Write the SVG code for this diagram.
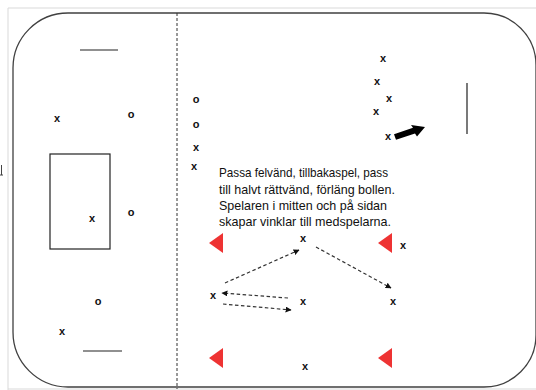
<svg xmlns="http://www.w3.org/2000/svg" width="536" height="390" viewBox="0 0 536 390">
<defs>
<style>
.frame{fill:none;stroke:#d9d9d9;stroke-width:1}
.rink{fill:none;stroke:#404040;stroke-width:1.3}
.line{fill:none;stroke:#222;stroke-width:1.2}
.mid{fill:none;stroke:#333;stroke-width:1;stroke-dasharray:3 2}
.pass{fill:none;stroke:#333;stroke-width:1.2;stroke-dasharray:3.5 2.5}
.cone{fill:#ee3333}
.pl{font-family:"Liberation Sans",Arial,sans-serif;font-weight:bold;font-size:11px;fill:#111;text-anchor:middle}
.txt{font-family:"Liberation Sans",Arial,sans-serif;font-size:13px;fill:#111}
</style>
<marker id="ah" viewBox="0 0 10 10" refX="9" refY="5" markerWidth="6" markerHeight="6" markerUnits="userSpaceOnUse" orient="auto">
<path d="M0,0 L10,5 L0,10 z" fill="#111"/>
</marker>
</defs>
<rect width="536" height="390" fill="#fff"/>
<g id="frame">
<path class="frame" d="M8,8 H536 M8,8 V390 M8,389 H536"/>
<path d="M1.5,165 V175 M0,175 H3" stroke="#444" stroke-width="1" fill="none"/>
</g>
<g id="rink">
<path class="rink" d="M68,13 H484 A52,52 0 0 1 536,65 V335 A52,52 0 0 1 484,387 H68 A55,55 0 0 1 13,332 V68 A55,55 0 0 1 68,13 Z"/>
<path class="mid" d="M177,13 V389"/>
<path class="line" d="M80,50 H118 M83,351 H122 M467,83 V134"/>
<rect x="50" y="154" width="60" height="95" class="line"/>
</g>
<g id="players">
<text class="pl" x="57" y="122">x</text>
<text class="pl" x="131" y="118">o</text>
<text class="pl" x="92" y="222">x</text>
<text class="pl" x="131" y="216">o</text>
<text class="pl" x="98" y="305">o</text>
<text class="pl" x="62" y="335">x</text>
<text class="pl" x="196" y="103">o</text>
<text class="pl" x="196" y="128">o</text>
<text class="pl" x="196" y="151">x</text>
<text class="pl" x="194" y="170">x</text>
<text class="pl" x="383" y="62">x</text>
<text class="pl" x="377" y="85">x</text>
<text class="pl" x="389" y="102">x</text>
<text class="pl" x="376" y="115">x</text>
<text class="pl" x="388" y="140">x</text>
<text class="pl" x="303" y="242">x</text>
<text class="pl" x="403" y="249">x</text>
<text class="pl" x="213" y="299">x</text>
<text class="pl" x="303" y="305">x</text>
<text class="pl" x="393" y="305">x</text>
<text class="pl" x="305" y="370">x</text>
</g>
<g id="cones">
<polygon class="cone" points="209,243 223,233 223,253"/>
<polygon class="cone" points="378,243 392,233 392,253"/>
<polygon class="cone" points="209,358 223,348 223,368"/>
<polygon class="cone" points="378,358 392,348 392,368"/>
</g>
<g id="connectors">
<path class="pass" d="M225,283 L299,250" marker-end="url(#ah)"/>
<path class="pass" d="M316,247 L391,288" marker-end="url(#ah)"/>
<path class="pass" d="M288,298 L222,293" marker-end="url(#ah)"/>
<path class="pass" d="M223,304 L291,310" marker-end="url(#ah)"/>
<polygon points="396,139.8 415,133.5 417,136.6 425,127 411,125 413,127.8 394,134.2" fill="#000"/>
</g>
<g id="note">
<text class="txt" x="219" y="177" textLength="169" lengthAdjust="spacingAndGlyphs">Passa felvänd, tillbakaspel, pass</text>
<text class="txt" x="219" y="194" textLength="176" lengthAdjust="spacingAndGlyphs">till halvt rättvänd, förläng bollen.</text>
<text class="txt" x="219" y="210" textLength="168" lengthAdjust="spacingAndGlyphs">Spelaren i mitten och på sidan</text>
<text class="txt" x="219" y="226" textLength="172" lengthAdjust="spacingAndGlyphs">skapar vinklar till medspelarna.</text>
</g>
</svg>
